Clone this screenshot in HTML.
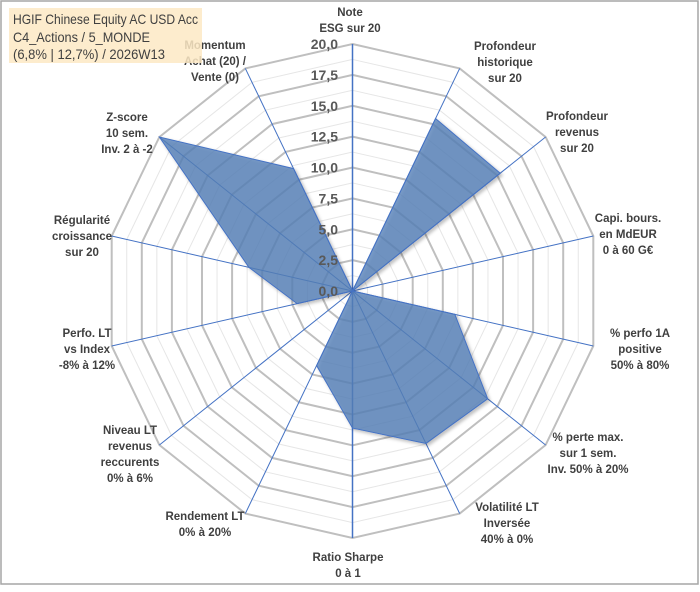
<!DOCTYPE html>
<html><head><meta charset="utf-8">
<style>
html,body{margin:0;padding:0;background:#fff;}
body{width:700px;height:587px;position:relative;overflow:hidden;font-family:"Liberation Sans",Arial,sans-serif;}
</style></head>
<body>
<svg id="chart" width="700" height="587" viewBox="0 0 700 587" xmlns="http://www.w3.org/2000/svg">
<defs>
<filter id="sh" x="-10%" y="-10%" width="120%" height="120%"><feDropShadow dx="2" dy="2" stdDeviation="1.5" flood-color="#000" flood-opacity="0.3"/></filter>
</defs>
<rect x="1" y="1" width="697" height="583" fill="#fff" stroke="#a6a6a6" stroke-width="1.5"/>
<g id="grid"></g>
<g id="axes"></g>
<g id="series"></g>
<g id="ticks"></g>
<g id="labels"></g>
<g>
<rect x="9" y="8" width="193" height="55" fill="#fde9c4" fill-opacity="0.85"/>
<text x="13" y="24" font-size="14" fill="#404040" textLength="185" lengthAdjust="spacingAndGlyphs">HGIF Chinese Equity AC USD Acc</text>
<text x="13" y="42" font-size="14" fill="#404040" textLength="137" lengthAdjust="spacingAndGlyphs">C4_Actions / 5_MONDE</text>
<text x="13" y="59" font-size="14" fill="#404040" textLength="152" lengthAdjust="spacingAndGlyphs">(6,8% | 12,7%) / 2026W13</text>
</g>
</svg>
<script>
const categories=[["Note","ESG sur 20"],["Profondeur","historique","sur 20"],["Profondeur","revenus","sur 20"],["Capi. bours.","en MdEUR","0 à 60 G€"],["% perfo 1A","positive","50% à 80%"],["% perte max.","sur 1 sem.","Inv. 50% à 20%"],["Volatilité LT","Inversée","40% à 0%"],["Ratio Sharpe","0 à 1"],["Rendement LT","0% à 20%"],["Niveau LT","revenus","reccurents","0% à 6%"],["Perfo. LT","vs Index","-8% à 12%"],["Régularité","croissance","sur 20"],["Z-score","10 sem.","Inv. 2 à -2"],["Momentum","Achat (20) /","Vente (0)"]];
const values=[0,15.5,15.3,0,8.5,14,13.7,11.1,6.7,0,4.6,8.6,20,11];
const tickLabels=["0,0","2,5","5,0","7,5","10,0","12,5","15,0","17,5","20,0"];
const labelPos=[[350,12],[505,46],[577,116],[628,218],[640,333],[588,437],[507,507],[348,557],[205,516],[130,430],[87,333],[82,220],[127,117],[215,45]];
const NS="http://www.w3.org/2000/svg";
const cx=352.5,cy=291,R=247,maxV=20,N=categories.length;
function pt(i,v){const a=i*2*Math.PI/N;const r=v/maxV*R;return [cx+r*Math.sin(a),cy-r*Math.cos(a)];}
function mk(tag,attrs,parent){const e=document.createElementNS(NS,tag);for(const k in attrs)e.setAttribute(k,attrs[k]);parent.appendChild(e);return e;}
const grid=document.getElementById('grid');
for(let k=1;k<=16;k++){const v=k*1.25;const pts=[];for(let i=0;i<N;i++)pts.push(pt(i,v).join(','));
const major=k%2===0;
const p=mk('polygon',{points:pts.join(' '),fill:'none',stroke:major?'#bfbfbf':'#e6e6e6','stroke-width':major?2:1},grid);

}
const axes=document.getElementById('axes');
for(let i=0;i<N;i++){const [x,y]=pt(i,maxV);const l=mk('line',{x1:cx,y1:cy,x2:x,y2:y,stroke:'#4472c4','stroke-width':i===0||i===7?1.5:1},axes);

}
const ser=document.getElementById('series');
const sp=values.map((v,i)=>pt(i,v).join(',')).join(' ');
const poly=mk('polygon',{points:sp,fill:'#5680b8','fill-opacity':0.78,stroke:'#4472c4','stroke-width':1,filter:'url(#sh)'},ser);


const ticks=document.getElementById('ticks');
tickLabels.forEach((t,k)=>{const y=cy-(k*2.5)/maxV*R;const e=mk('text',{x:338,y:y+5,'text-anchor':'end','font-size':14,'font-weight':'bold',fill:'#595959'},ticks);e.textContent=t;

});
const labels=document.getElementById('labels');
categories.forEach((lines,i)=>{const [x,y]=labelPos[i];const g=mk('text',{'text-anchor':'middle','font-size':11.5,'font-weight':'bold',fill:'#404040'},labels);


lines.forEach((s,j)=>{const ts=mk('tspan',{x:x,y:y+4+j*16},g);ts.textContent=s;});});
</script>
</body></html>
